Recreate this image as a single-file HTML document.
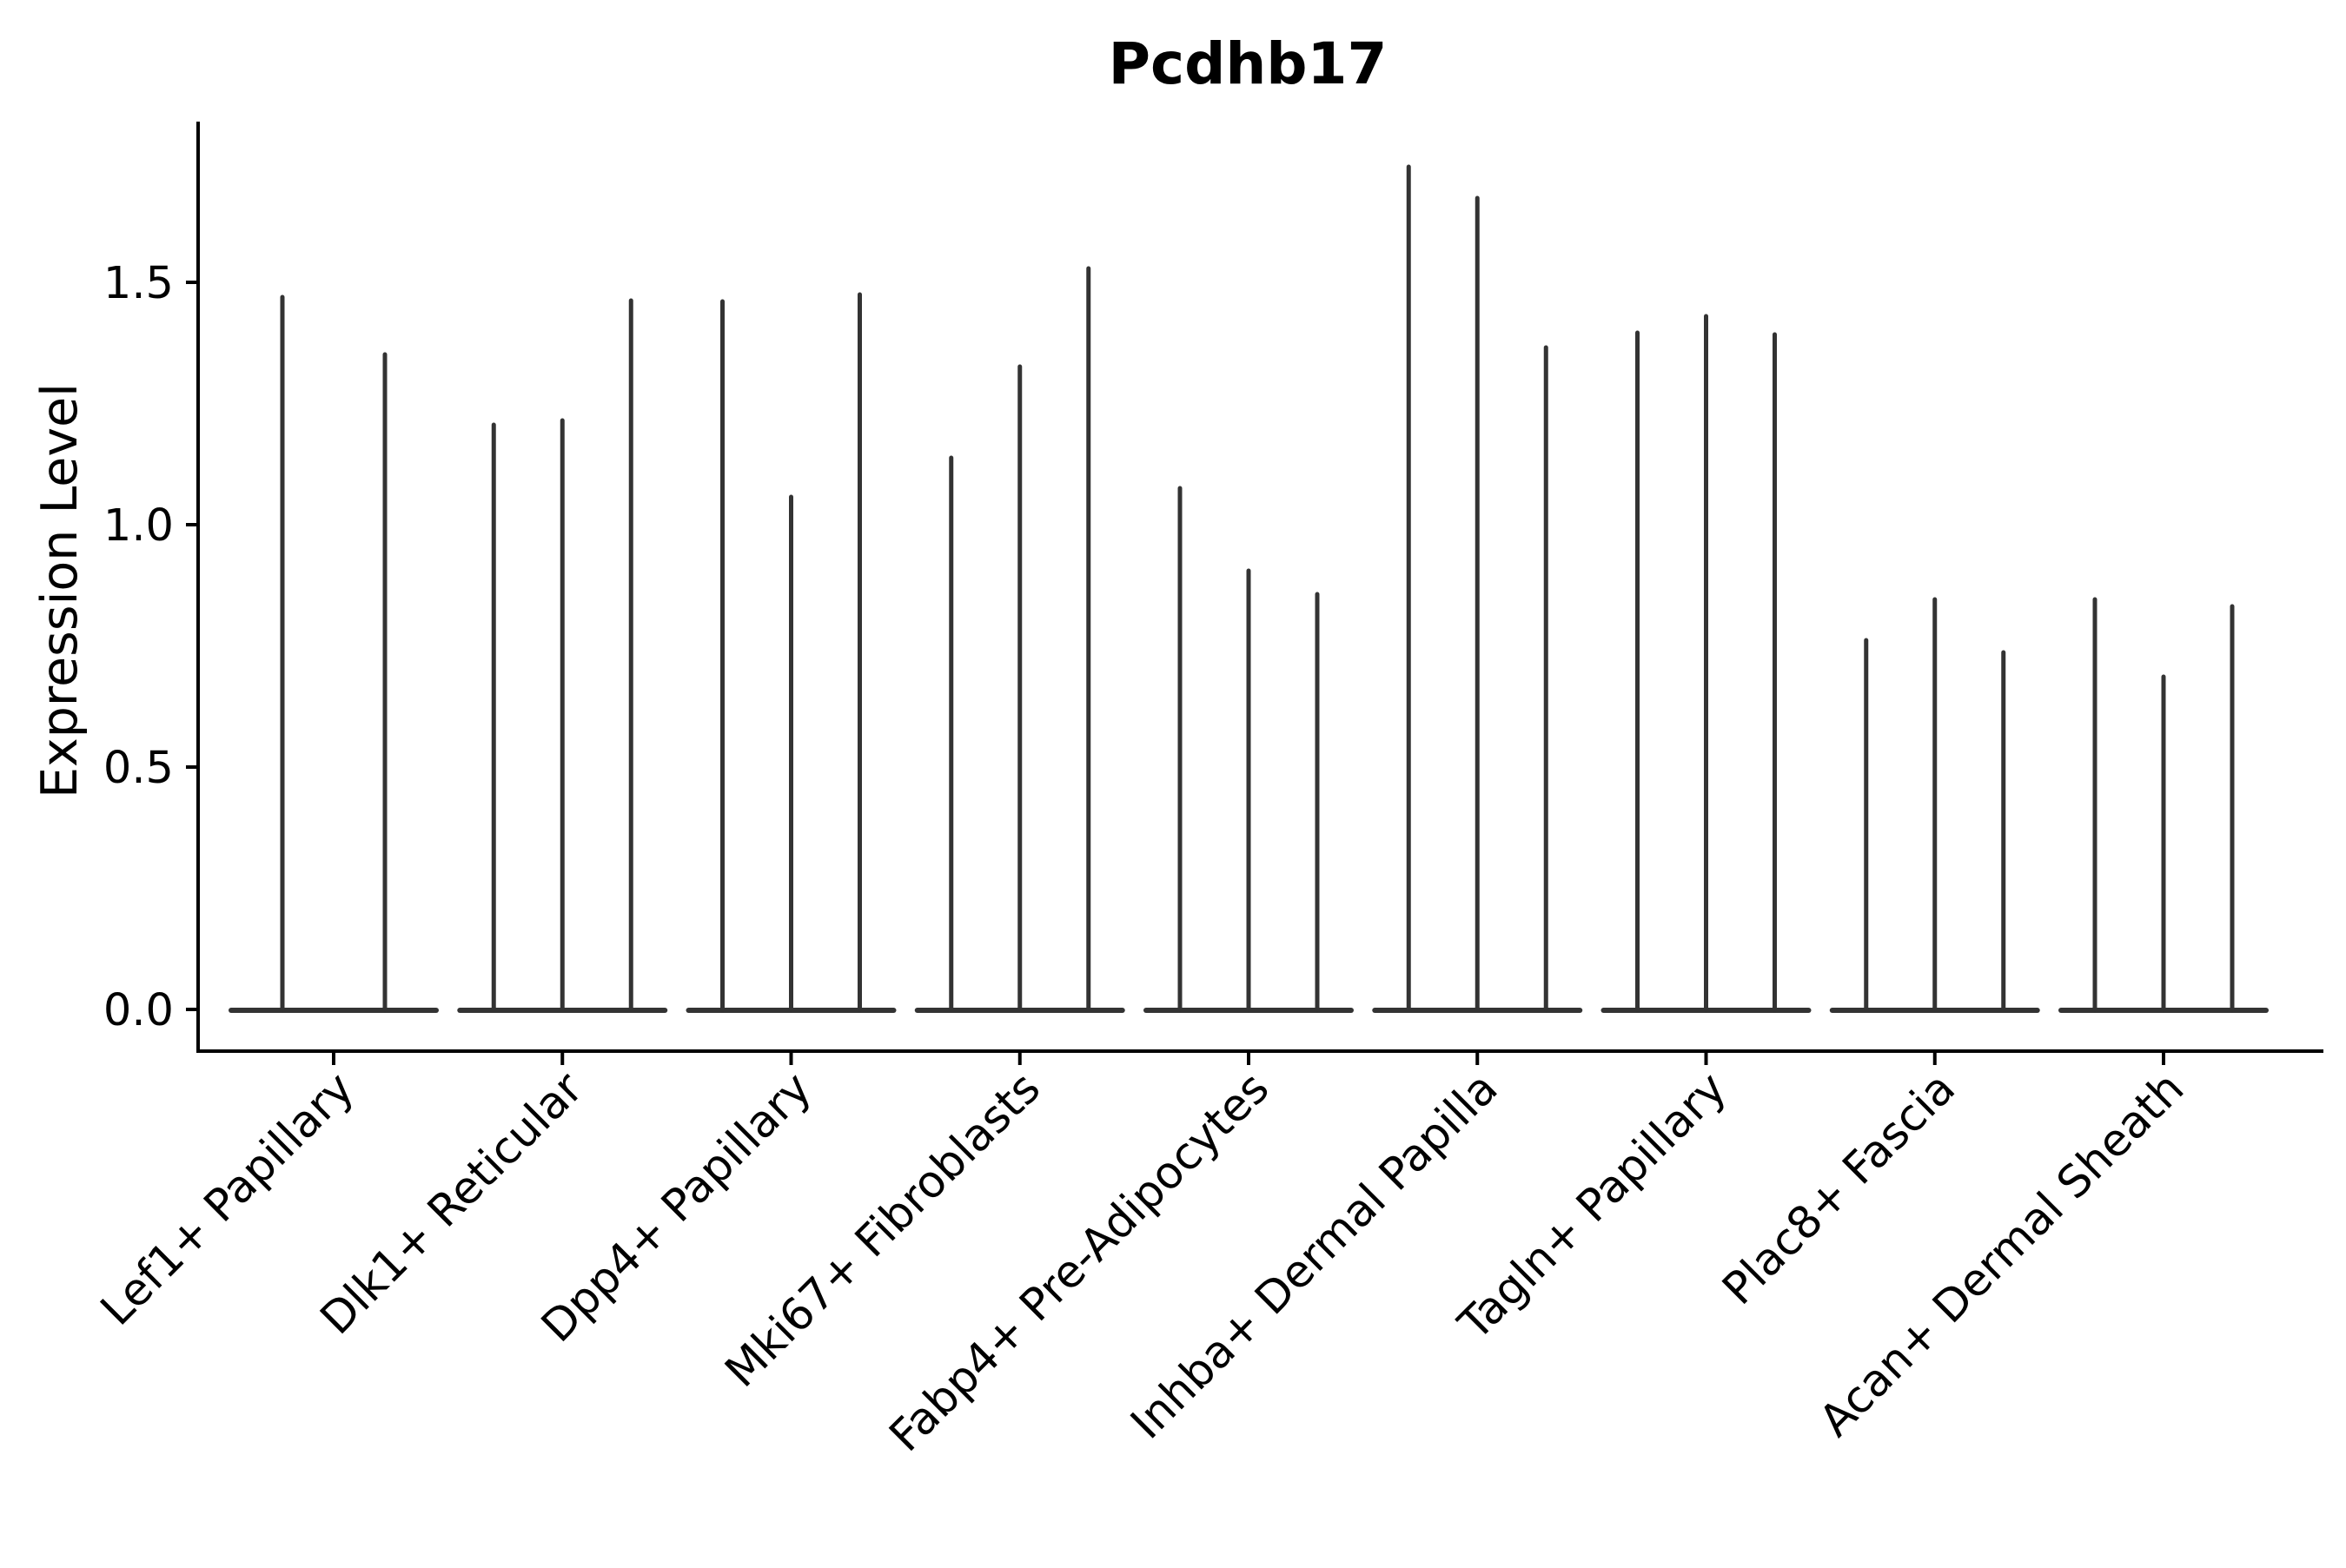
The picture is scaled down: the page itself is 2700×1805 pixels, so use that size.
<!DOCTYPE html>
<html><head><meta charset="utf-8"><style>html,body{margin:0;padding:0;background:#fff}</style></head>
<body>
<svg width="2700" height="1800" viewBox="0 0 2700 1800" xmlns="http://www.w3.org/2000/svg" font-family="'DejaVu Sans','Liberation Sans',sans-serif">
<rect width="2700" height="1800" fill="#fff"/>
<text x="1436" y="96" text-anchor="middle" font-size="66" font-weight="bold">Pcdhb17</text>
<text transform="translate(88,680) rotate(-90)" text-anchor="middle" font-size="57">Expression Level</text>
<g font-size="51" text-anchor="end">
<text x="200" y="1180">0.0</text>
<text x="200" y="901">0.5</text>
<text x="200" y="622">1.0</text>
<text x="200" y="343">1.5</text>
</g>
<g stroke="#000" stroke-width="4">
<line x1="228" y1="140" x2="228" y2="1212"/>
<line x1="226" y1="1210" x2="2674" y2="1210"/>
<line x1="214" y1="1162" x2="228" y2="1162"/>
<line x1="214" y1="883" x2="228" y2="883"/>
<line x1="214" y1="604" x2="228" y2="604"/>
<line x1="214" y1="325" x2="228" y2="325"/>
<line x1="384" y1="1212" x2="384" y2="1226"/>
<line x1="647.25" y1="1212" x2="647.25" y2="1226"/>
<line x1="910.5" y1="1212" x2="910.5" y2="1226"/>
<line x1="1173.75" y1="1212" x2="1173.75" y2="1226"/>
<line x1="1437" y1="1212" x2="1437" y2="1226"/>
<line x1="1700.25" y1="1212" x2="1700.25" y2="1226"/>
<line x1="1963.5" y1="1212" x2="1963.5" y2="1226"/>
<line x1="2226.75" y1="1212" x2="2226.75" y2="1226"/>
<line x1="2490" y1="1212" x2="2490" y2="1226"/>
</g>
<g stroke="#333" stroke-linecap="round" fill="none" stroke-width="6">
<line x1="266" y1="1163" x2="502" y2="1163"/>
<line x1="529.25" y1="1163" x2="765.25" y2="1163"/>
<line x1="792.5" y1="1163" x2="1028.5" y2="1163"/>
<line x1="1055.75" y1="1163" x2="1291.75" y2="1163"/>
<line x1="1319" y1="1163" x2="1555" y2="1163"/>
<line x1="1582.25" y1="1163" x2="1818.25" y2="1163"/>
<line x1="1845.5" y1="1163" x2="2081.5" y2="1163"/>
<line x1="2108.75" y1="1163" x2="2344.75" y2="1163"/>
<line x1="2372" y1="1163" x2="2608" y2="1163"/>
</g>
<g stroke="#333" stroke-linecap="round" fill="none" stroke-width="5">
<line x1="325" y1="1162" x2="325" y2="342"/>
<line x1="443" y1="1162" x2="443" y2="408"/>
<line x1="568.25" y1="1162" x2="568.25" y2="489"/>
<line x1="647.25" y1="1162" x2="647.25" y2="484"/>
<line x1="726.25" y1="1162" x2="726.25" y2="346"/>
<line x1="831.5" y1="1162" x2="831.5" y2="347"/>
<line x1="910.5" y1="1162" x2="910.5" y2="572"/>
<line x1="989.5" y1="1162" x2="989.5" y2="339"/>
<line x1="1094.75" y1="1162" x2="1094.75" y2="527"/>
<line x1="1173.75" y1="1162" x2="1173.75" y2="422"/>
<line x1="1252.75" y1="1162" x2="1252.75" y2="309"/>
<line x1="1358" y1="1162" x2="1358" y2="562"/>
<line x1="1437" y1="1162" x2="1437" y2="657"/>
<line x1="1516" y1="1162" x2="1516" y2="684"/>
<line x1="1621.25" y1="1162" x2="1621.25" y2="192"/>
<line x1="1700.25" y1="1162" x2="1700.25" y2="228"/>
<line x1="1779.25" y1="1162" x2="1779.25" y2="400"/>
<line x1="1884.5" y1="1162" x2="1884.5" y2="383"/>
<line x1="1963.5" y1="1162" x2="1963.5" y2="364"/>
<line x1="2042.5" y1="1162" x2="2042.5" y2="385"/>
<line x1="2147.75" y1="1162" x2="2147.75" y2="737"/>
<line x1="2226.75" y1="1162" x2="2226.75" y2="690"/>
<line x1="2305.75" y1="1162" x2="2305.75" y2="751"/>
<line x1="2411" y1="1162" x2="2411" y2="690"/>
<line x1="2490" y1="1162" x2="2490" y2="779"/>
<line x1="2569" y1="1162" x2="2569" y2="698"/>
</g>
<g font-size="51" text-anchor="end">
<text transform="translate(410,1256) rotate(-45)">Lef1+ Papillary</text>
<text transform="translate(673.25,1256) rotate(-45)">Dlk1+ Reticular</text>
<text transform="translate(936.5,1256) rotate(-45)">Dpp4+ Papillary</text>
<text transform="translate(1199.75,1256) rotate(-45)">Mki67+ Fibroblasts</text>
<text transform="translate(1463,1256) rotate(-45)">Fabp4+ Pre-Adipocytes</text>
<text transform="translate(1726.25,1256) rotate(-45)">Inhba+ Dermal Papilla</text>
<text transform="translate(1989.5,1256) rotate(-45)">Tagln+ Papillary</text>
<text transform="translate(2252.75,1256) rotate(-45)">Plac8+ Fascia</text>
<text transform="translate(2516,1256) rotate(-45)">Acan+ Dermal Sheath</text>
</g>
</svg>
</body></html>
